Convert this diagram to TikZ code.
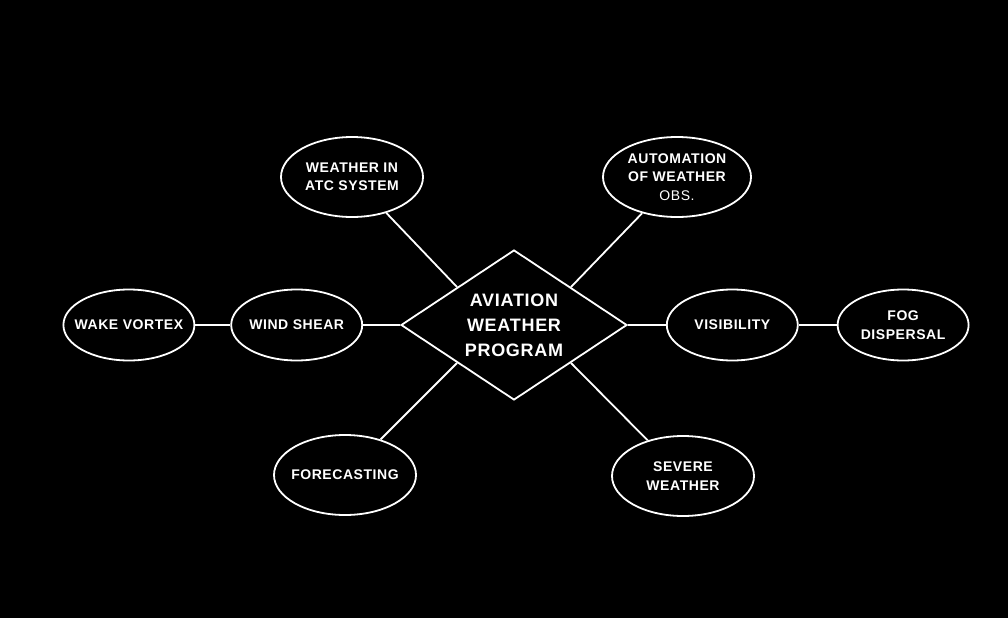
\documentclass[tikz,border=0pt]{standalone}
\usepackage{fontspec}
\setmainfont{Liberation Sans}
\newfontfamily\bubblefont[LetterSpace=4]{Liberation Sans}
\newfontfamily\hubfont[LetterSpace=4]{Liberation Sans}
\usepackage{tikz}
\usetikzlibrary{shapes, positioning}

\begin{document}
\begin{tikzpicture}[
			x=1pt, y=-1pt,
			bubble/.style={
				ellipse,
				draw=white,
				fill=black,
				text=white,
				minimum width=142pt,
				minimum height=80pt,
				inner xsep=-5pt,
				inner ysep=0pt,
				align=center,
				font=\bubblefont\bfseries\fontsize{14}{18.5}\selectfont,
				line width=1.8pt
			},
			small/.style={
				bubble,
				minimum width=131pt,
				minimum height=71pt,
				inner xsep=-9pt
			},
			hub/.style={
				diamond,
				draw=white,
				text=white,
				aspect=1.5,
				minimum width=226pt,
				minimum height=150pt,
				inner sep=0pt,
				align=center,
				font=\hubfont\bfseries\fontsize{18}{25}\selectfont,
				line width=1.8pt
			},
			link/.style={
				draw=white,
				line width=1.8pt
			}
			]
			
			% Background
			\fill[black] (0,0) rectangle (1008,618);
			\useasboundingbox (0,0) rectangle (1008,618);
			
			% Centre: Aviation Weather Program
			\node[hub] (prog) at (514,325) {AVIATION\\WEATHER\\PROGRAM};
			
			% Left row
			\node[small, left=37pt of prog] (wind) {WIND SHEAR};
			\node[small, left=35pt of wind] (wake) {WAKE VORTEX};
			
			% Right row
			\node[small, right=38pt of prog] (vis) {VISIBILITY};
			\node[small, right=38pt of vis] (fog) {FOG\\DISPERSAL};
			
			% Upper bubbles
			\node[bubble] (atc) at (352,177) {WEATHER IN\\ATC SYSTEM};
			\node[bubble, minimum width=148pt] (auto) at (677,177) {AUTOMATION\\OF WEATHER\\{\mdseries OBS.}};
			
			% Lower bubbles
			\node[bubble] (fcst) at (345,475) {FORECASTING};
			\node[bubble] (severe) at (683,476) {SEVERE\\WEATHER};
			
			% Connectors
			\draw[link] (wake) -- (wind);
			\draw[link] (wind) -- (prog.west);
			\draw[link] (prog.east) -- (vis);
			\draw[link] (vis) -- (fog);
			\draw[link] (atc) -- (prog.north west);
			\draw[link] (auto) -- (prog.north east);
			\draw[link] (fcst) -- (prog.south west);
			\draw[link] (severe) -- (prog.south east);
			
		\end{tikzpicture}
\end{document}
